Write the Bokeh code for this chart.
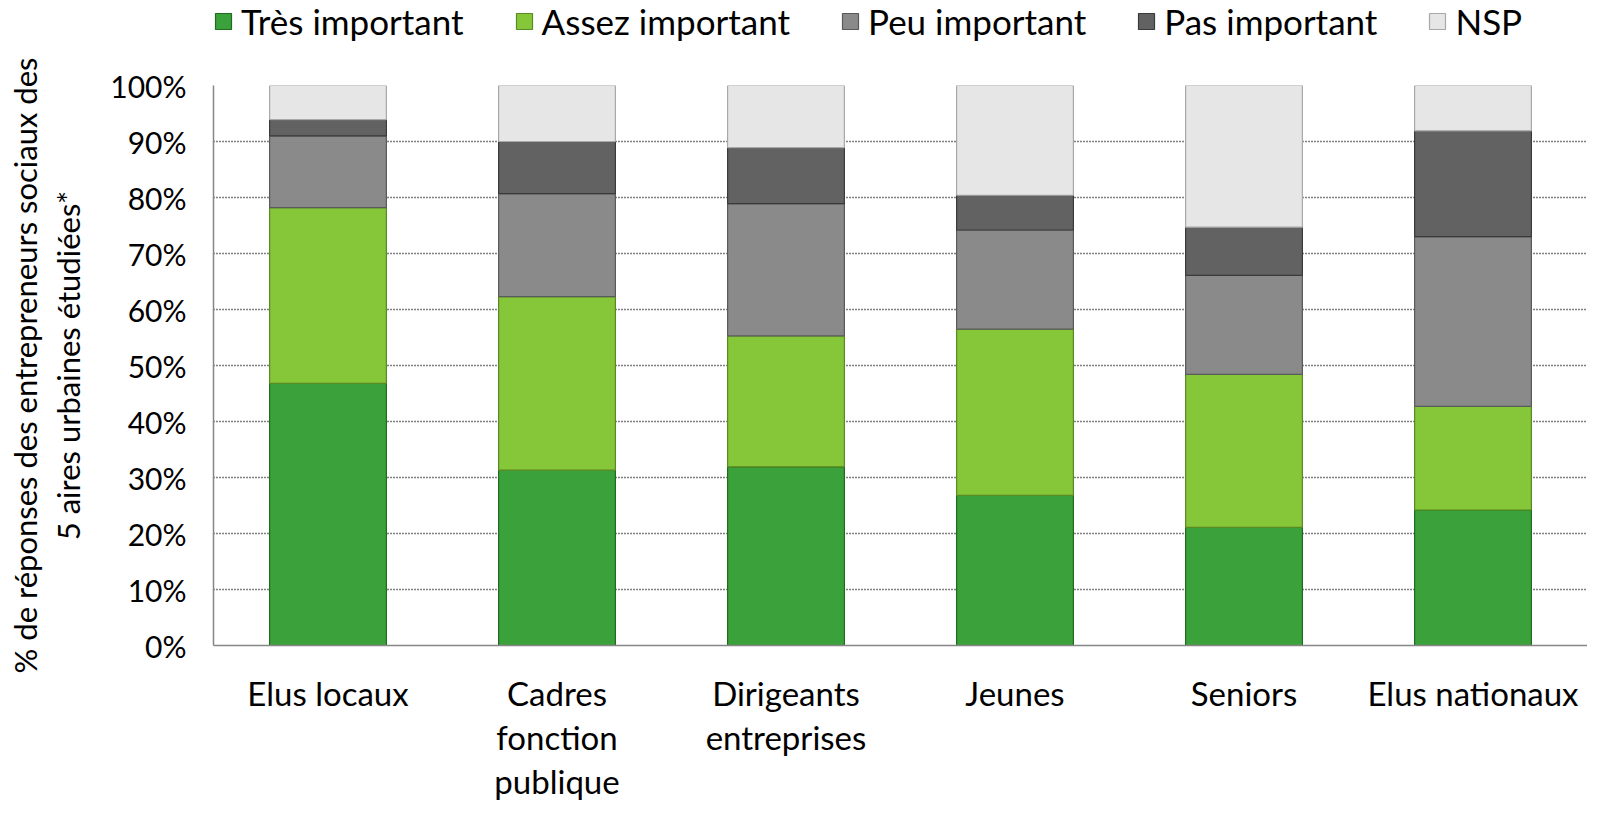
from bokeh.plotting import figure
from bokeh.models import ColumnDataSource, FactorRange, Legend, LegendItem, NumeralTickFormatter, Range1d, FixedTicker, LinearAxis
from bokeh.layouts import column
from bokeh.embed import file_html
from bokeh.resources import INLINE

categories = ["Elus locaux", "Cadres\nfonction\npublique", "Dirigeants\nentreprises",
              "Jeunes", "Seniors", "Elus nationaux"]
series = ["Très important", "Assez important", "Peu important", "Pas important", "NSP"]
tres_important = [0.468, 0.313, 0.319, 0.268, 0.211, 0.242]
assez_important = [0.314, 0.310, 0.234, 0.297, 0.273, 0.185]
peu_important = [0.128, 0.184, 0.236, 0.177, 0.177, 0.303]
pas_important = [0.029, 0.093, 0.100, 0.062, 0.086, 0.189]
nsp = [0.061, 0.100, 0.111, 0.196, 0.253, 0.081]
y_ticks = [0, 0.1, 0.2, 0.3, 0.4, 0.5, 0.6, 0.7, 0.8, 0.9, 1.0]
y_title_lines = ["% de réponses des entrepreneurs sociaux des", "5 aires urbaines étudiées*"]

colors = ["#3ba13a", "#86c73a", "#8a8a8a", "#626262", "#e6e6e6"]
edges = ["#1f6b1f", "#5a8a22", "#5a5a5a", "#3a3a3a", "#a8a8a8"]

source = ColumnDataSource(dict(
    cat=categories,
    s0=tres_important, s1=assez_important, s2=peu_important, s3=pas_important, s4=nsp,
))
keys = ["s0", "s1", "s2", "s3", "s4"]

FONT = "Lato"
FS = "33px"
TITLE_FS = "31px"

# ---- main chart ----
p = figure(x_range=FactorRange(*categories), y_range=Range1d(0, 1.0),
           width=1587, height=753, output_backend="svg", toolbar_location=None,
           min_border_left=200, min_border_right=0, min_border_top=35, min_border_bottom=0)

p.vbar_stack(keys, x="cat", width=0.51, source=source,
             fill_color=colors, line_color=edges, line_width=1.2)

p.outline_line_color = None
p.xgrid.grid_line_color = None
p.ygrid.grid_line_color = "#000000"
p.ygrid.grid_line_dash = "1 2"
p.ygrid.grid_line_width = 1.3
p.yaxis.ticker = FixedTicker(ticks=y_ticks)
p.yaxis.formatter = NumeralTickFormatter(format="0%")

for ax in (p.xaxis, p.yaxis):
    ax.axis_line_color = "#868686"
    ax.axis_line_width = 1.5
    ax.major_tick_line_color = None
    ax.minor_tick_line_color = None
    ax.major_tick_out = 0
    ax.major_tick_in = 0
    ax.major_label_text_font = FONT
    ax.major_label_text_color = "#000000"

p.xaxis.major_label_text_font_size = FS
p.xaxis.major_label_text_line_height = 1.1
p.yaxis.major_label_text_font_size = "30px"
p.yaxis.major_label_standoff = 27
p.xaxis.major_label_standoff = 27

# y title: second line on the main axis, first line on an extra bare axis further out
p.yaxis.axis_label = y_title_lines[1]
outer = LinearAxis(axis_label=y_title_lines[0], ticker=FixedTicker(ticks=[]),
                   axis_line_color=None, major_tick_line_color=None,
                   minor_tick_line_color=None, major_tick_out=0, major_tick_in=0,
                   major_label_text_font_size="0px")
p.yaxis[0].axis_label_standoff = 20
outer.axis_label_standoff = 3
for ax in (p.yaxis[0], outer):
    ax.axis_label_text_font = FONT
    ax.axis_label_text_font_size = TITLE_FS
    ax.axis_label_text_font_style = "normal"
    ax.axis_label_text_color = "#000000"
p.add_layout(outer, "left")

# ---- legend strip above the chart (its bars lie outside its own visible range) ----
leg = figure(width=1587, height=50, x_range=FactorRange(*categories), y_range=Range1d(2, 3),
             output_backend="svg", toolbar_location=None, x_axis_type=None, y_axis_type=None,
             min_border_left=213, min_border_right=0, min_border_top=0, min_border_bottom=0)
leg.outline_line_color = None
leg.grid.grid_line_color = None
leg_renderers = leg.vbar_stack(keys, x="cat", width=0.51, source=source,
                               fill_color=colors, line_color=edges, line_width=1.2)
items = [LegendItem(label=s, renderers=[r]) for s, r in zip(series, leg_renderers)]
legend = Legend(items=items, orientation="horizontal", location="top_left",
                label_text_font=FONT, label_text_font_size="35px", label_text_color="#000000",
                glyph_width=20, glyph_height=20, label_standoff=8, spacing=50,
                padding=0, margin=0, border_line_color=None, background_fill_alpha=0)
leg.add_layout(legend)

open("out.html", "w").write(file_html(column(leg, p, spacing=0), INLINE))
